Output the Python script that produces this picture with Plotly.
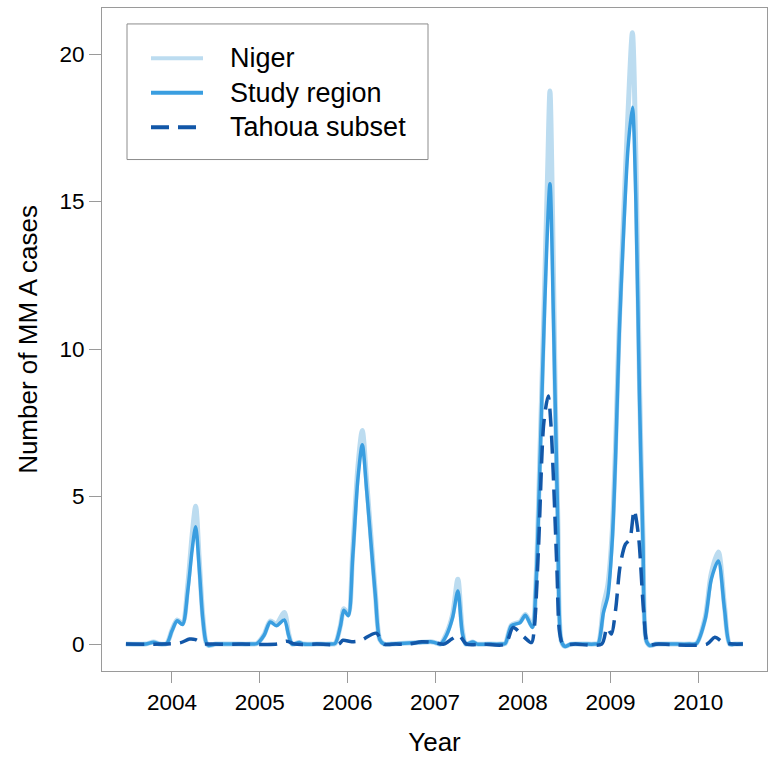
import plotly.graph_objects as go

# ---------------- data (decimal years, cases) ----------------
study_x = [2003.475, 2003.70, 2003.79, 2003.86, 2003.94, 2004.00, 2004.06, 2004.12, 2004.18, 2004.23, 2004.27,
           2004.31, 2004.35, 2004.39, 2004.42, 2004.50, 2004.70,
           2004.90, 2004.97, 2005.05, 2005.12, 2005.19, 2005.28, 2005.33, 2005.37, 2005.45, 2005.50, 2005.65,
           2005.80, 2005.86, 2005.92, 2005.96, 2006.01, 2006.06, 2006.12, 2006.17, 2006.22, 2006.27, 2006.32, 2006.37,
           2006.42, 2006.50,
           2006.60, 2006.80, 2006.95, 2007.00, 2007.06, 2007.13, 2007.20, 2007.26, 2007.31, 2007.35, 2007.43, 2007.48,
           2007.60, 2007.75, 2007.80, 2007.87, 2007.97, 2008.03, 2008.11, 2008.15, 2008.20, 2008.25, 2008.31, 2008.35,
           2008.40, 2008.44, 2008.48, 2008.55, 2008.70,
           2008.82, 2008.86, 2008.92, 2008.97, 2009.02, 2009.06, 2009.10, 2009.15, 2009.20, 2009.25, 2009.29, 2009.33,
           2009.37, 2009.41, 2009.45, 2009.52, 2009.70,
           2009.90, 2009.98, 2010.08, 2010.15, 2010.23, 2010.30, 2010.36, 2010.42, 2010.51]
study_y = [0.0, 0.0, 0.06, 0.0, 0.02, 0.45, 0.79, 0.66, 1.8, 3.2, 3.98,
           2.6, 0.9, 0.05, -0.05, 0.0, 0.0,
           0.0, 0.02, 0.3, 0.75, 0.62, 0.82, 0.3, 0.0, 0.05, 0.0, 0.0,
           0.0, 0.02, 0.6, 1.15, 0.96, 2.9, 5.6, 6.76, 5.2, 3.4, 1.6, 0.15,
           0.0, 0.0,
           0.02, 0.05, 0.08, 0.05, 0.0, 0.3, 0.9, 1.8, 0.4, 0.0, 0.07, 0.0,
           0.0, 0.0, 0.02, 0.62, 0.73, 0.98, 0.56, 2.0, 6.5, 11.5, 15.6, 11.0,
           4.0, 0.1, -0.08, 0.0, 0.0,
           0.0, 0.02, 1.07, 1.63, 3.5, 6.5, 10.5, 14.0, 16.8, 18.2, 15.0, 8.5,
           3.5, 0.1, -0.05, 0.0, 0.0,
           0.0, 0.02, 0.84, 2.2, 2.82, 1.2, 0.0, 0.0, 0.0]

niger_x = [2003.475, 2003.70, 2003.79, 2003.86, 2003.94, 2004.00, 2004.06, 2004.12, 2004.18, 2004.23, 2004.27,
           2004.31, 2004.35, 2004.39, 2004.42, 2004.50, 2004.70,
           2004.90, 2004.97, 2005.05, 2005.12, 2005.19, 2005.28, 2005.33, 2005.37, 2005.45, 2005.50, 2005.65,
           2005.80, 2005.86, 2005.92, 2005.96, 2006.01, 2006.06, 2006.12, 2006.17, 2006.22, 2006.27, 2006.32, 2006.37,
           2006.42, 2006.50,
           2006.60, 2006.80, 2006.95, 2007.00, 2007.06, 2007.13, 2007.20, 2007.26, 2007.31, 2007.35, 2007.43, 2007.48,
           2007.60, 2007.75, 2007.80, 2007.87, 2007.97, 2008.03, 2008.11, 2008.15, 2008.20, 2008.25, 2008.28, 2008.31,
           2008.34, 2008.37, 2008.40, 2008.44, 2008.48, 2008.55, 2008.70,
           2008.82, 2008.86, 2008.92, 2008.97, 2009.02, 2009.06, 2009.10, 2009.15, 2009.20, 2009.25, 2009.29, 2009.33,
           2009.37, 2009.41, 2009.45, 2009.52, 2009.70,
           2009.90, 2009.98, 2010.08, 2010.15, 2010.23, 2010.30, 2010.36, 2010.42, 2010.51]
niger_y = [0.0, 0.0, 0.07, 0.0, 0.02, 0.48, 0.82, 0.70, 2.0, 3.7, 4.67,
           2.9, 1.0, 0.05, -0.05, 0.0, 0.0,
           0.0, 0.02, 0.32, 0.78, 0.68, 1.07, 0.35, 0.0, 0.05, 0.0, 0.0,
           0.0, 0.02, 0.62, 1.2, 1.0, 3.1, 6.0, 7.24, 5.5, 3.6, 1.7, 0.15,
           0.0, 0.0,
           0.02, 0.05, 0.08, 0.05, 0.0, 0.35, 1.0, 2.2, 0.5, 0.0, 0.07, 0.0,
           0.0, 0.0, 0.02, 0.64, 0.76, 1.0, 0.6, 2.1, 6.9, 12.2, 15.6, 18.75,
           14.5, 8.5, 4.2, 0.1, -0.08, 0.0, 0.0,
           0.0, 0.02, 1.3, 2.0, 3.8, 6.9, 10.8, 14.5, 18.0, 20.72, 16.5, 9.0,
           3.7, 0.1, -0.05, 0.0, 0.0,
           0.0, 0.02, 0.9, 2.4, 3.12, 1.3, 0.0, 0.0, 0.0]

tahoua_x = [2003.475, 2003.90, 2004.10, 2004.20, 2004.27, 2004.35, 2004.45, 2004.80,
            2005.20, 2005.31, 2005.40, 2005.65,
            2005.90, 2005.95, 2006.05, 2006.15, 2006.33, 2006.42, 2006.55,
            2006.70, 2006.85, 2007.00, 2007.10, 2007.19, 2007.27, 2007.36, 2007.55,
            2007.80, 2007.89, 2008.00, 2008.10, 2008.13, 2008.18, 2008.24, 2008.29, 2008.32, 2008.35, 2008.39, 2008.42,
            2008.46, 2008.60,
            2008.90, 2008.96, 2009.01, 2009.06, 2009.11, 2009.17, 2009.22, 2009.27, 2009.32, 2009.38, 2009.43, 2009.55,
            2010.10, 2010.19, 2010.29, 2010.40, 2010.51]
tahoua_y = [0.0, 0.0, 0.05, 0.17, 0.15, 0.02, 0.0, 0.0,
            0.0, 0.10, 0.0, 0.0,
            0.0, 0.13, 0.08, 0.12, 0.37, 0.0, 0.0,
            0.0, 0.08, 0.05, 0.0, 0.17, 0.30, 0.0, 0.0,
            0.0, 0.56, 0.28, 0.05, 0.5, 3.3, 7.5, 8.41, 7.5, 5.6, 2.5, 0.4,
            0.0, 0.0,
            0.0, 0.56, 0.34, 1.2, 2.65, 3.38, 3.55, 4.54, 3.66, 1.07, 0.0, 0.0,
            0.0, 0.23, 0.05, 0.0, 0.0]

series_names = ["Niger", "Study region", "Tahoua subset"]
series_colors = ["#bcdcf0", "#3a9ee0", "#1257a8"]

x_tick_vals = [2004, 2005, 2006, 2007, 2008, 2009, 2010]
x_tick_text = ["2004", "2005", "2006", "2007", "2008", "2009", "2010"]
y_tick_vals = [0, 5, 10, 15, 20]

# ---------------- figure ----------------
FONT = "Liberation Sans, Arial, sans-serif"
AXIS_GRAY = "#9a9a9a"
DASH = "18px,9px"

fig = go.Figure()
fig.add_trace(go.Scatter(x=niger_x, y=niger_y, mode="lines", name=series_names[0],
                         line=dict(color=series_colors[0], width=5, shape="spline", smoothing=0.8),
                         showlegend=False))
fig.add_trace(go.Scatter(x=study_x, y=study_y, mode="lines", name=series_names[1],
                         line=dict(color=series_colors[1], width=3.5, shape="spline", smoothing=0.8),
                         showlegend=False))
fig.add_trace(go.Scatter(x=tahoua_x, y=tahoua_y, mode="lines", name=series_names[2],
                         line=dict(color=series_colors[2], width=3.5, shape="spline", smoothing=0.8, dash=DASH),
                         showlegend=False))

# legend box (drawn manually to match R-style legend)
W, H = 775, 758
ML, MR, MT, MB = 102, 8, 7, 86
PW, PH = W - ML - MR, H - MT - MB


def px(xp):
    return (xp - ML) / PW


def py(yp):
    return (H - MB - yp) / PH


shapes = [dict(type="rect", xref="paper", yref="paper", x0=px(127), x1=px(428), y0=py(159), y1=py(23),
               line=dict(color="#8c8c8c", width=1), fillcolor="white", layer="above")]
annotations = []
legend_rows = [57.5, 92, 126.5]
line_dashes = ["solid", "solid", DASH]
line_widths = [4, 4, 4]
for name, col, yy, dsh, lw in zip(series_names, series_colors, legend_rows, line_dashes, line_widths):
    shapes.append(dict(type="line", xref="paper", yref="paper", x0=px(151), x1=px(203), y0=py(yy), y1=py(yy),
                       line=dict(color=col, width=lw, dash=dsh), layer="above"))
    annotations.append(dict(text=name, xref="paper", yref="paper", x=px(228), y=py(yy), xanchor="left",
                            yanchor="middle", showarrow=False, font=dict(family=FONT, size=27, color="black")))

fig.update_layout(
    width=W, height=H, autosize=False,
    margin=dict(l=ML, r=MR, t=MT, b=MB),
    paper_bgcolor="white", plot_bgcolor="white",
    font=dict(family=FONT, color="black"),
    shapes=shapes, annotations=annotations,
    showlegend=False,
)
fig.update_xaxes(range=[2003.202, 2010.785], tickvals=x_tick_vals, ticktext=x_tick_text,
                 showgrid=False, zeroline=False, showline=True, mirror=True, linecolor=AXIS_GRAY, linewidth=1,
                 ticks="outside", ticklen=11, tickcolor=AXIS_GRAY, tickwidth=1,
                 tickfont=dict(family=FONT, size=22.5, color="black"),
                 title=dict(text="Year", font=dict(family=FONT, size=26, color="black"), standoff=18))
fig.update_yaxes(range=[-0.912, 21.56], tickvals=y_tick_vals,
                 showgrid=False, zeroline=False, showline=True, mirror=True, linecolor=AXIS_GRAY, linewidth=1,
                 ticks="outside", ticklen=12, tickcolor=AXIS_GRAY, tickwidth=1,
                 tickfont=dict(family=FONT, size=22.5, color="black"),
                 title=dict(text="Number of MM A cases", font=dict(family=FONT, size=26, color="black"), standoff=14))

fig.write_html("out.html", config={"displayModeBar": False},
               post_script="document.body.style.margin='0px';document.body.style.overflow='hidden';")
